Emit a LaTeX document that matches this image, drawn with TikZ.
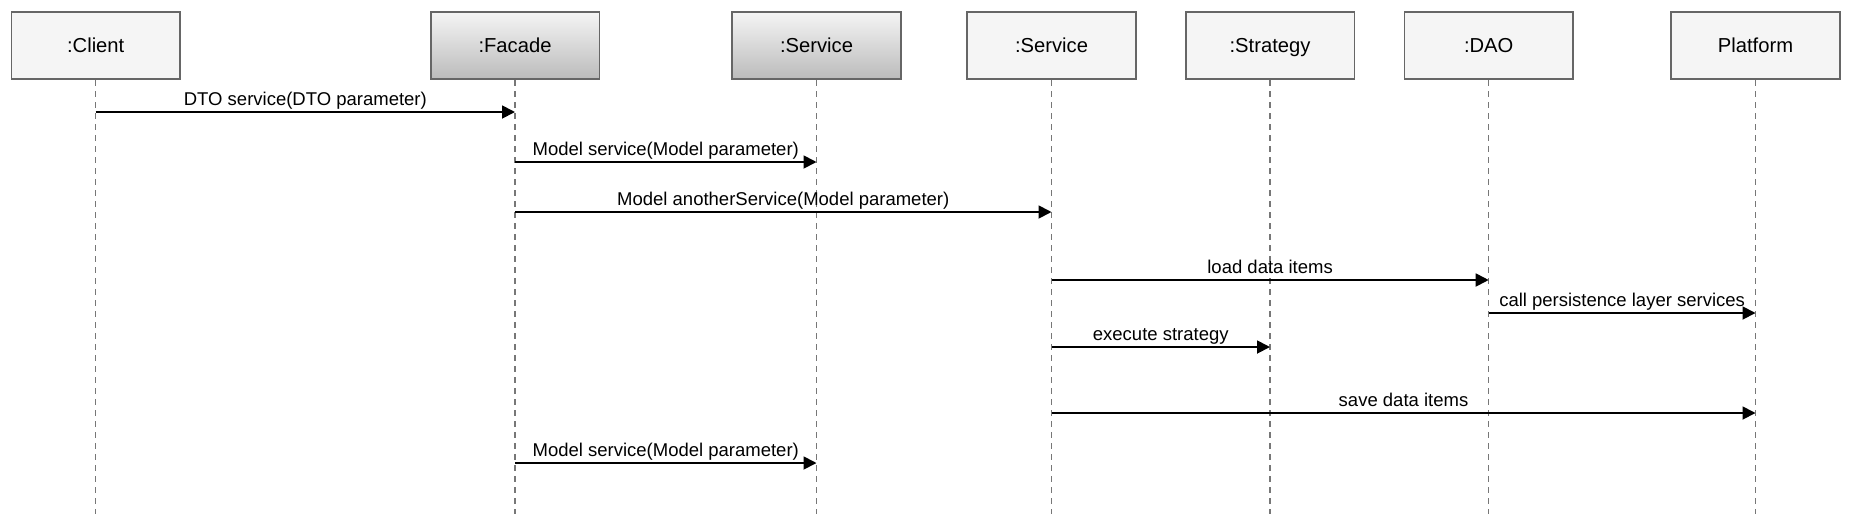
\documentclass[tikz,border=0pt]{standalone}
\usepackage{fontspec}
\setmainfont{Liberation Sans}
\usetikzlibrary{arrows.meta,calc}
\definecolor{boxfill}{HTML}{F5F5F5}
\definecolor{boxgrad}{HTML}{BBBBBB}
\definecolor{boxline}{HTML}{666666}
\definecolor{lifegray}{HTML}{777777}
\tikzset{
  actor/.style={draw=boxline, line width=1.7pt, fill=boxfill, minimum width=168.7pt, minimum height=67.5pt, inner sep=0pt,
    text height=14.5pt, text depth=0pt, font=\fontsize{20.2}{24}\selectfont},
  gradactor/.style={actor, top color=boxfill, bottom color=boxgrad},
  lifeline/.style={draw=lifegray, line width=1.5pt, dash pattern=on 5.5pt off 5.5pt},
  msg/.style={draw=black, line width=1.8pt, -{Triangle[length=13pt,width=13pt]}},
  msglabel/.style={anchor=base, yshift=6.7pt, inner sep=0pt, font=\fontsize{18.5}{22}\selectfont}
}
\begin{document}
\begin{tikzpicture}[x=1pt,y=-1pt]
\useasboundingbox (0,0) rectangle (1850,520);
% actors
\node[actor]     (client)   at (95.7,45.5)  {:Client};
\node[gradactor] (facade)   at (515,45.5)   {:Facade};
\node[gradactor] (service1) at (816.5,45.5) {:Service};
\node[actor]     (service2) at (1051.5,45.5) {:Service};
\node[actor]     (strategy) at (1270,45.5)  {:Strategy};
\node[actor]     (dao)      at (1488.7,45.5) {:DAO};
\node[actor]     (platform) at (1755.5,45.5)  {Platform};
% lifelines
\foreach \n in {client,facade,service1,service2,strategy,dao,platform}{
  \coordinate (\n-end) at (\n.south |- 0,514);
  \draw[lifeline] (\n.south) -- (\n-end);
}
% messages
\draw[msg] (client.south |- 0,112) -- node[msglabel]{DTO service(DTO parameter)} (facade.south |- 0,112);
\draw[msg] (facade.south |- 0,162) -- node[msglabel]{Model service(Model parameter)} (service1.south |- 0,162);
\draw[msg] (facade.south |- 0,212) -- node[msglabel]{Model anotherService(Model parameter)} (service2.south |- 0,212);
\draw[msg] (service2.south |- 0,280) -- node[msglabel]{load data items} (dao.south |- 0,280);
\draw[msg] (dao.south |- 0,313) -- node[msglabel]{call persistence layer services} (platform.south |- 0,313);
\draw[msg] (service2.south |- 0,347) -- node[msglabel]{execute strategy} (strategy.south |- 0,347);
\draw[msg] (service2.south |- 0,413) -- node[msglabel]{save data items} (platform.south |- 0,413);
\draw[msg] (facade.south |- 0,463) -- node[msglabel]{Model service(Model parameter)} (service1.south |- 0,463);
\end{tikzpicture}
\end{document}
